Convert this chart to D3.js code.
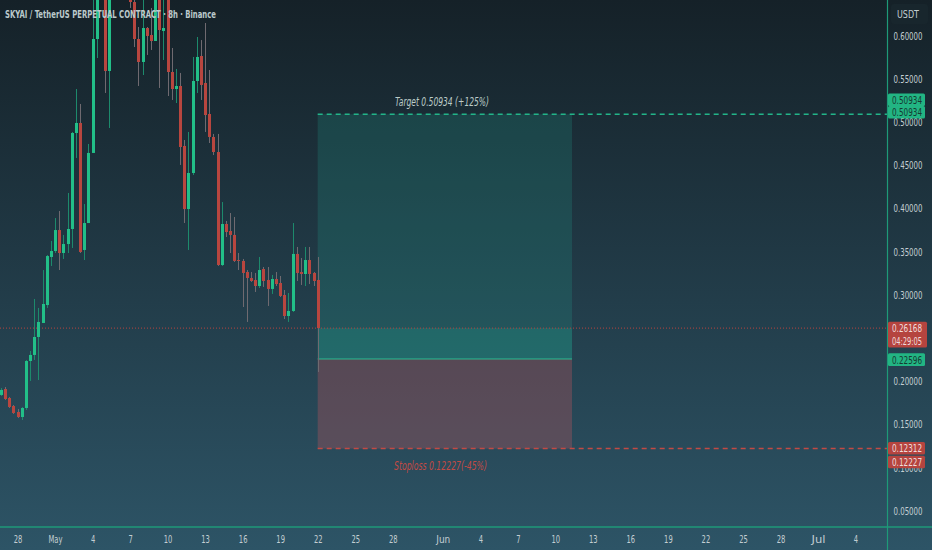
<!DOCTYPE html>
<html>
<head>
<meta charset="utf-8">
<script src="https://cdn.jsdelivr.net/npm/d3@7"></script>
<style>
  body { margin: 0; background: #1c3038; }
  svg { display: block; }
  text { font-family: "DejaVu Sans Condensed", "Liberation Sans Narrow", "Roboto", sans-serif; }
</style>
</head>
<body>
<figure style="margin:0"></figure>
<script>
// chart size
var W = 932, H = 550;
var plotRight = 887.5, plotBottom = 527;

// 8h bars, first bar opens Apr 26 16:00
var barStart = new Date(2025, 3, 26, 16);
var barHours = 8;

var opens = [0.1843,0.1912,0.1808,0.1715,0.1646,0.1588,0.1692,0.2236,0.2306,0.2514,
  0.2676,0.2884,0.3440,0.3509,0.3752,0.3486,0.3590,0.3764,0.4875,0.4991,
  0.3521,0.3833,0.4644,0.5963,0.6500,0.6950,0.5593,0.6600,0.6950,0.6750,
  0.7150,0.6600,0.6391,0.5963,0.5697,0.6090,0.6009,0.5940,0.6449,0.6056,
  0.6438,0.5581,0.5384,0.5419,0.4725,0.3995,0.4412,0.5477,0.5766,0.5454,
  0.5095,0.4829,0.4655,0.3347,0.3822,0.3741,0.3695,0.3405,0.3394,0.3266,
  0.3197,0.3174,0.3104,0.3301,0.3174,0.3070,0.3185,0.3139,0.3000,0.2757,
  0.2815,0.3475,0.3266,0.3243,0.3405,0.3255,0.3174];
var highs = [0.1924,0.1935,0.1820,0.1727,0.1681,0.1704,0.2248,0.2352,0.2954,0.2850,
  0.3289,0.3463,0.3625,0.3891,0.3972,0.3695,0.4181,0.4887,0.5384,0.5211,
  0.4053,0.4748,0.6530,0.6646,0.7050,0.7200,0.6800,0.7100,0.7300,0.7350,
  0.7250,0.6700,0.6472,0.6102,0.6472,0.6102,0.6322,0.6588,0.6530,0.6438,
  0.6507,0.5859,0.5616,0.5570,0.4794,0.4887,0.5755,0.5986,0.5951,0.6148,
  0.5604,0.4864,0.4864,0.4076,0.3857,0.3949,0.3903,0.3486,0.3417,0.3289,
  0.3266,0.3255,0.3440,0.3324,0.3324,0.3232,0.3266,0.3220,0.3058,0.3023,
  0.3833,0.3556,0.3428,0.3556,0.3556,0.3266,0.3440];
var lows = [0.1831,0.1785,0.1692,0.1623,0.1576,0.1553,0.1669,0.2005,0.2248,0.2016,
  0.2676,0.2850,0.3336,0.3486,0.3289,0.3417,0.3486,0.3544,0.4586,0.3486,
  0.3405,0.3833,0.4644,0.5743,0.6460,0.5338,0.4933,0.6480,0.6650,0.6600,
  0.6550,0.6322,0.5870,0.5419,0.5546,0.5778,0.5836,0.5940,0.5396,0.5720,
  0.5303,0.5257,0.5222,0.4505,0.3833,0.3521,0.4389,0.5338,0.5257,0.4887,
  0.4759,0.4620,0.3336,0.3336,0.3671,0.3486,0.3382,0.3289,0.2861,0.2688,
  0.3151,0.3035,0.3081,0.3093,0.2873,0.3012,0.3104,0.2977,0.2722,0.2688,
  0.2803,0.3162,0.3116,0.3104,0.3127,0.3104,0.2109];
var closes = [0.1901,0.1796,0.1704,0.1634,0.1588,0.1692,0.2236,0.2306,0.2514,0.2688,
  0.2896,0.3451,0.3509,0.3752,0.3486,0.3590,0.3764,0.4875,0.4991,0.3498,
  0.3833,0.4644,0.5963,0.6472,0.6900,0.5593,0.6600,0.6950,0.6750,0.7150,
  0.6650,0.6391,0.5963,0.5697,0.6090,0.5998,0.5940,0.6449,0.6067,0.6090,
  0.5581,0.5384,0.5419,0.4713,0.3995,0.4412,0.5477,0.5755,0.5431,0.5083,
  0.4829,0.4655,0.3347,0.3822,0.3729,0.3695,0.3394,0.3394,0.3255,0.3197,
  0.3162,0.3104,0.3289,0.3162,0.3070,0.3185,0.3127,0.2989,0.2757,0.2815,
  0.3475,0.3255,0.3243,0.3405,0.3243,0.3162,0.26168];

// long position tool
var entryPrice = 0.22596, targetPrice = 0.50934, stopPrice = 0.12227;
var lastPrice = 0.26168, countdown = "04:29:05";
var posStart = new Date(2025, 4, 22, 0), posEnd = new Date(2025, 5, 11, 8);
var targetText = "Target 0.50934 (+125%)", stopText = "Stoploss 0.12227(-45%)";

// axis ticks (0.25 sits fully under the last-price tag)
var yTicks = [0.05, 0.10, 0.15, 0.20, 0.30, 0.35, 0.40, 0.45, 0.50, 0.55, 0.60];
var xTickDates = [[3,28],[4,1],[4,4],[4,7],[4,10],[4,13],[4,16],[4,19],[4,22],[4,25],[4,28],
  [5,1],[5,4],[5,7],[5,10],[5,13],[5,16],[5,19],[5,22],[5,25],[5,28],[6,1],[6,4]];
var xTickLabels = ["28","May","4","7","10","13","16","19","22","25","28",
  "Jun","4","7","10","13","16","19","22","25","28","Jul","4"];

// price axis labels
var axisTags = [
  {lines: ["0.50934"], price: 0.50934, dy: -14.4, bg: "#22b583", fg: "#163a32"},
  {lines: ["0.50934"], price: 0.50934, dy: -1.9, bg: "#22b583", fg: "#163a32"},
  {lines: ["0.26168", countdown], price: lastPrice, dy: 0, bg: "#b5443f", fg: "#f0dcdc"},
  {lines: ["0.22596"], price: entryPrice, dy: 0.7, bg: "#22b583", fg: "#163a32"},
  {lines: ["0.12312"], price: 0.12312, dy: 0.5, bg: "#b5443f", fg: "#f0dcdc"},
  {lines: ["0.12227"], price: 0.12227, dy: 13.5, bg: "#b5443f", fg: "#f0dcdc"}
];

var bars = opens.map(function(o, i) {
  return {t: new Date(barStart.getTime() + i * barHours * 3600e3),
          o: o, h: highs[i], l: lows[i], c: closes[i]};
});

var svg = d3.select("figure").append("svg")
    .attr("width", W)
    .attr("height", H);

var defs = svg.append("defs");
var grad = defs.append("linearGradient").attr("id", "bg")
    .attr("x1", 0).attr("y1", 0).attr("x2", 0).attr("y2", 1);
grad.append("stop").attr("offset", "0%").attr("stop-color", "#152128");
grad.append("stop").attr("offset", "100%").attr("stop-color", "#2d5466");
defs.append("clipPath").attr("id", "plot")
  .append("rect").attr("width", plotRight).attr("height", plotBottom);

svg.append("rect").attr("width", W).attr("height", H).attr("fill", "url(#bg)");

// scales
var x = d3.scaleTime()
    .domain([new Date(2025, 3, 28), new Date(2025, 6, 4)])
    .range([17.5, 855.5]);
var y = d3.scaleLinear()
    .domain([0.05, 0.60])
    .range([511, 35.8]);

var plot = svg.append("g").attr("clip-path", "url(#plot)");

// position box
var bx0 = x(posStart), bx1 = x(posEnd);
plot.append("rect")
    .attr("x", bx0).attr("y", y(targetPrice))
    .attr("width", bx1 - bx0).attr("height", y(entryPrice) - y(targetPrice))
    .attr("fill", "rgba(34,171,148,0.2)");
plot.append("rect")
    .attr("x", bx0).attr("y", y(lastPrice))
    .attr("width", bx1 - bx0).attr("height", y(entryPrice) - y(lastPrice))
    .attr("fill", "rgba(34,171,148,0.22)");
plot.append("rect")
    .attr("x", bx0).attr("y", y(entryPrice))
    .attr("width", bx1 - bx0).attr("height", y(stopPrice) - y(entryPrice))
    .attr("fill", "rgba(190,85,95,0.33)");
plot.append("line")
    .attr("x1", bx0).attr("x2", bx1)
    .attr("y1", y(entryPrice)).attr("y2", y(entryPrice))
    .attr("stroke", "#2bbd92").attr("stroke-width", 1);

// current price line
plot.append("line")
    .attr("x1", 0).attr("x2", plotRight)
    .attr("y1", y(lastPrice)).attr("y2", y(lastPrice))
    .attr("stroke", "#b5443f").attr("stroke-width", 1)
    .attr("stroke-dasharray", "1,2");

// candles
var cw = 3;
var candle = plot.append("g").selectAll("g")
    .data(bars)
    .enter().append("g");
candle.append("line")
    .attr("x1", function(d) { return Math.round(x(d.t)) + 0.5; })
    .attr("x2", function(d) { return Math.round(x(d.t)) + 0.5; })
    .attr("y1", function(d) { return y(d.h); })
    .attr("y2", function(d) { return y(d.l); })
    .attr("stroke", function(d) { return d.c >= d.o ? "#1d8a6c" : "#6f6a70"; })
    .attr("stroke-width", 1);
candle.append("rect")
    .attr("x", function(d) { return Math.round(x(d.t)) + 0.5 - cw / 2; })
    .attr("y", function(d) { return y(Math.max(d.o, d.c)); })
    .attr("width", cw)
    .attr("height", function(d) { return Math.max(1, Math.abs(y(d.o) - y(d.c))); })
    .attr("fill", function(d) { return d.c >= d.o ? "#22bf88" : "#b8463f"; });

// target / stop dashed lines
plot.append("line")
    .attr("x1", bx0).attr("x2", plotRight)
    .attr("y1", y(targetPrice)).attr("y2", y(targetPrice))
    .attr("stroke", "#22b589").attr("stroke-width", 1.5)
    .attr("stroke-dasharray", "5,4");
plot.append("line")
    .attr("x1", bx0).attr("x2", plotRight)
    .attr("y1", y(stopPrice)).attr("y2", y(stopPrice))
    .attr("stroke", "#c24a44").attr("stroke-width", 1.5)
    .attr("stroke-dasharray", "5,4");

svg.append("text")
    .attr("x", 395).attr("y", y(targetPrice) - 8)
    .attr("font-size", 12).attr("font-style", "italic")
    .attr("fill", "#bccbc8")
    .attr("textLength", 94).attr("lengthAdjust", "spacingAndGlyphs")
    .text(targetText);
svg.append("text")
    .attr("x", 394).attr("y", y(stopPrice) + 21)
    .attr("font-size", 12).attr("font-style", "italic")
    .attr("fill", "#c24a44")
    .attr("textLength", 93).attr("lengthAdjust", "spacingAndGlyphs")
    .text(stopText);

// title
svg.append("text")
    .attr("x", 5).attr("y", 17.5)
    .attr("font-size", 11).attr("font-weight", "bold")
    .attr("fill", "#bccacc")
    .attr("textLength", 211).attr("lengthAdjust", "spacingAndGlyphs")
    .text("SKYAI / TetherUS PERPETUAL CONTRACT \u00b7 8h \u00b7 Binance");

// price axis
var yAxis = svg.append("g")
    .attr("transform", "translate(" + plotRight + ",0)")
    .call(d3.axisRight(y).tickValues(yTicks).tickSize(0).tickPadding(6)
      .tickFormat(d3.format(".5f")));
yAxis.select(".domain").remove();
yAxis.selectAll("text")
    .attr("font-size", 10.5).attr("fill", "#c3ced2")
    .attr("textLength", 29).attr("lengthAdjust", "spacingAndGlyphs");

// time axis
var xAxis = svg.append("g")
    .attr("transform", "translate(0," + plotBottom + ")")
    .call(d3.axisBottom(x)
      .tickValues(xTickDates.map(function(d) { return new Date(2025, d[0], d[1]); }))
      .tickSize(0).tickPadding(8)
      .tickFormat(function(d, i) { return xTickLabels[i]; }));
xAxis.select(".domain").remove();
xAxis.selectAll("text")
    .attr("font-size", 11).attr("fill", "#c3ced2")
    .attr("textLength", function(d, i) {
      return isNaN(+xTickLabels[i]) ? 14 : 4.3 * xTickLabels[i].length;
    })
    .attr("lengthAdjust", "spacingAndGlyphs");

// axis borders
svg.append("line")
    .attr("x1", 0).attr("x2", W).attr("y1", plotBottom).attr("y2", plotBottom)
    .attr("stroke", "#1e9a78").attr("stroke-width", 1.5);
svg.append("line")
    .attr("x1", plotRight).attr("x2", plotRight).attr("y1", 0).attr("y2", H)
    .attr("stroke", "#1e9a78").attr("stroke-width", 1.2);

// price tags on the axis
var tag = svg.append("g").selectAll("g")
    .data(axisTags)
    .enter().append("g")
    .attr("transform", function(d) {
      return "translate(" + (plotRight + 0.5) + "," + (y(d.price) + d.dy) + ")";
    });
tag.append("rect")
    .attr("x", 0)
    .attr("y", -6.3)
    .attr("width", function(d) { return d.lines.length > 1 ? 39 : 37; })
    .attr("height", function(d) { return 12.6 * d.lines.length + (d.lines.length > 1 ? 0.6 : 0); })
    .attr("rx", 1.5)
    .attr("fill", function(d) { return d.bg; });
tag.each(function(d) {
  var g = d3.select(this);
  d.lines.forEach(function(s, k) {
    g.append("text")
      .attr("x", 4).attr("y", 4 + k * 13)
      .attr("font-size", 10)
      .attr("fill", d.fg)
      .attr("textLength", 30).attr("lengthAdjust", "spacingAndGlyphs")
      .text(s);
  });
});

// currency box
svg.append("rect")
    .attr("x", 891).attr("y", 4).attr("width", 37).attr("height", 20)
    .attr("rx", 3).attr("fill", "#18262d");
svg.append("text")
    .attr("x", 897).attr("y", 18)
    .attr("font-size", 10).attr("fill", "#c3ced2")
    .attr("textLength", 22).attr("lengthAdjust", "spacingAndGlyphs")
    .text("USDT");
</script>
</body>
</html>
